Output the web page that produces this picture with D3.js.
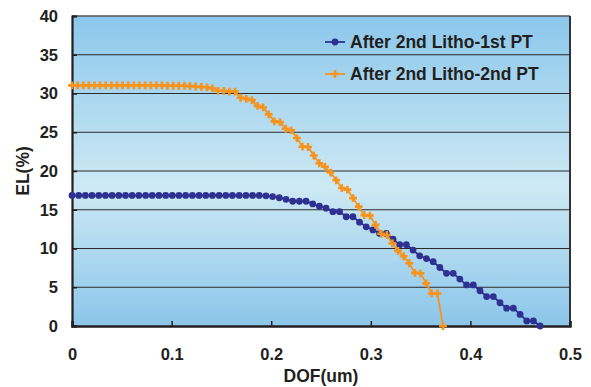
<!DOCTYPE html>
<html>
<head>
<meta charset="utf-8">
<script src="https://cdn.jsdelivr.net/npm/d3@7/dist/d3.min.js"></script>
<style>
  html, body { margin: 0; padding: 0; background: #ffffff; }
  svg { display: block; }
  text { font-family: "Liberation Sans", Arial, Helvetica, sans-serif; font-weight: bold; fill: #231f20; }
</style>
</head>
<body>
<svg id="chart" width="591" height="387"></svg>
<script>
// ---------- data ----------
const seriesNames = ["After 2nd Litho-1st PT", "After 2nd Litho-2nd PT"];

const dof1 = [0, 0.0067, 0.0134, 0.0201, 0.0269, 0.0336, 0.0403, 0.047, 0.0537, 0.0604,
  0.0671, 0.0739, 0.0806, 0.0873, 0.094, 0.1007, 0.1074, 0.1141, 0.1209, 0.1276,
  0.1343, 0.141, 0.1477, 0.1544, 0.1611, 0.1679, 0.1746, 0.1813, 0.188, 0.1947,
  0.2014, 0.2081, 0.2149, 0.2216, 0.2283, 0.235, 0.2417, 0.2484, 0.2551, 0.2619,
  0.2686, 0.2753, 0.282, 0.2887, 0.2954, 0.3021, 0.3089, 0.3156, 0.3223, 0.329,
  0.3357, 0.3424, 0.3491, 0.3559, 0.3626, 0.3693, 0.376, 0.3827, 0.3894, 0.3961,
  0.4029, 0.4096, 0.4163, 0.423, 0.4297, 0.4364, 0.4431, 0.4499, 0.4566, 0.4633, 0.47];
const el1 = [16.85, 16.85, 16.85, 16.85, 16.85, 16.85, 16.85, 16.85, 16.85, 16.85,
  16.85, 16.85, 16.85, 16.85, 16.85, 16.85, 16.85, 16.85, 16.85, 16.85,
  16.85, 16.85, 16.85, 16.85, 16.85, 16.85, 16.85, 16.85, 16.85, 16.8,
  16.7, 16.55, 16.35, 16.1, 16.1, 16.1, 15.75, 15.45, 15.2, 14.75,
  14.75, 14.1, 14.1, 13.4, 12.8, 12.4, 11.95, 11.95, 11.2, 10.5,
  10.5, 9.8, 9.05, 8.7, 8.3, 7.55, 6.8, 6.8, 6.05, 5.3,
  5.3, 4.55, 3.8, 3.8, 3.0, 2.3, 2.3, 1.5, 0.65, 0.65, 0.0];

const dof2 = [0, 0.0056, 0.0113, 0.0169, 0.0226, 0.0282, 0.0339, 0.0395, 0.0452, 0.0508,
  0.0564, 0.0621, 0.0677, 0.0734, 0.079, 0.0847, 0.0903, 0.0959, 0.1016, 0.1072,
  0.1129, 0.1185, 0.1242, 0.1298, 0.1355, 0.1411, 0.1467, 0.1524, 0.158, 0.1637,
  0.1693, 0.175, 0.1806, 0.1862, 0.1919, 0.1975, 0.2032, 0.2088, 0.2145, 0.2201,
  0.2258, 0.2314, 0.237, 0.2427, 0.2483, 0.254, 0.2596, 0.2653, 0.2709, 0.2765,
  0.2822, 0.2878, 0.2935, 0.2991, 0.3048, 0.3104, 0.3161, 0.3217, 0.3273, 0.333,
  0.3386, 0.3443, 0.3499, 0.3556, 0.3612, 0.3669, 0.3725];
const el2 = [31.05, 31.05, 31.05, 31.05, 31.05, 31.05, 31.05, 31.05, 31.05, 31.05,
  31.05, 31.05, 31.05, 31.05, 31.05, 31.05, 31.05, 31.0, 31.0, 31.0,
  31.0, 30.95, 30.9, 30.85, 30.8, 30.65, 30.35, 30.35, 30.25, 30.25,
  29.45, 29.3, 29.15, 28.4, 28.2, 27.3, 26.4, 26.3, 25.45, 25.25,
  24.25, 23.15, 23.1, 22.0, 21.0, 20.55, 19.8, 18.8, 17.8, 17.6,
  16.5, 15.4, 14.3, 14.25, 13.05, 11.9, 11.75, 10.65, 9.7, 9.0,
  8.1, 6.85, 6.8, 5.5, 4.2, 4.2, 0.0];

const xTicks = [0, 0.1, 0.2, 0.3, 0.4, 0.5];
const yTicks = [0, 5, 10, 15, 20, 25, 30, 35, 40];
const xTitle = "DOF(um)";
const yTitle = "EL(%)";

// ---------- layout ----------
const svg = d3.select("#chart");
const L = 72, R = 570, T = 16, B = 326;
const x = d3.scaleLinear().domain([0, 0.5]).range([L, R]);
const y = d3.scaleLinear().domain([0, 40]).range([B, T]);

// background gradient
const defs = svg.append("defs");
const grad = defs.append("linearGradient").attr("id", "bg")
  .attr("x1", 0).attr("y1", 0).attr("x2", 0).attr("y2", 1);
grad.append("stop").attr("offset", "0%").attr("stop-color", "#8cc7eb");
grad.append("stop").attr("offset", "55%").attr("stop-color", "#cde9f4");
grad.append("stop").attr("offset", "100%").attr("stop-color", "#8cc6ea");

svg.append("rect").attr("x", L).attr("y", T).attr("width", R - L).attr("height", B - T)
  .attr("fill", "url(#bg)");

// gridlines
svg.append("g").selectAll("line").data(yTicks.filter(d => d > 0 && d < 40)).join("line")
  .attr("x1", L).attr("x2", R).attr("y1", d => y(d)).attr("y2", d => y(d))
  .attr("stroke", "#2b2b2b").attr("stroke-width", 1);

// frame top / right
svg.append("line").attr("x1", L).attr("x2", R).attr("y1", T).attr("y2", T)
  .attr("stroke", "#555").attr("stroke-width", 1.3);
svg.append("line").attr("x1", R).attr("x2", R).attr("y1", T).attr("y2", B)
  .attr("stroke", "#333").attr("stroke-width", 2);

// axes
const yAxis = d3.axisLeft(y).tickValues(yTicks).tickSize(-5).tickPadding(14).tickFormat(d3.format("d"));
const gy = svg.append("g").attr("transform", `translate(${L},0)`).call(yAxis);
gy.select(".domain").attr("stroke", "#231f20").attr("stroke-width", 2.2);
gy.selectAll(".tick line").attr("stroke", "#231f20").attr("stroke-width", 1.5);
gy.selectAll(".tick text").attr("font-size", 16.5).attr("fill", "#231f20")
  .style("font-family", "'Liberation Sans', Arial, sans-serif").style("font-weight", "bold");

const xAxis = d3.axisBottom(x).tickValues(xTicks).tickSize(-5).tickPadding(22)
  .tickFormat(d => d === 0 ? "0" : d3.format(".1f")(d));
const gx = svg.append("g").attr("transform", `translate(0,${B})`).call(xAxis);
gx.select(".domain").attr("stroke", "#231f20").attr("stroke-width", 2.5);
gx.selectAll(".tick line").attr("stroke", "#231f20").attr("stroke-width", 1.5);
gx.selectAll(".tick text").attr("font-size", 16.5).attr("fill", "#231f20")
  .style("font-family", "'Liberation Sans', Arial, sans-serif").style("font-weight", "bold");

// axis titles
svg.append("text").attr("x", (L + R) / 2).attr("y", 382).attr("text-anchor", "middle")
  .attr("font-size", 17.5).text(xTitle);
svg.append("text").attr("transform", "translate(29,171) rotate(-90)").attr("text-anchor", "middle")
  .attr("font-size", 17.5).text(yTitle);

// series
const blue = "#2e3192", orange = "#f7941d";
const d1 = dof1.map((d, i) => [d, el1[i]]);
const d2 = dof2.map((d, i) => [d, el2[i]]);
const line = d3.line().x(d => x(d[0])).y(d => y(d[1]));

svg.append("path").datum(d1).attr("d", line).attr("fill", "none")
  .attr("stroke", blue).attr("stroke-width", 1.8);
svg.append("g").selectAll("circle").data(d1).join("circle")
  .attr("cx", d => x(d[0])).attr("cy", d => y(d[1])).attr("r", 3.4).attr("fill", blue);

svg.append("path").datum(d2).attr("d", line).attr("fill", "none")
  .attr("stroke", orange).attr("stroke-width", 1.8);
const cross = d3.symbol().type(d3.symbolCross).size(34);
svg.append("g").selectAll("path").data(d2).join("path")
  .attr("transform", d => `translate(${x(d[0])},${y(d[1])})`).attr("d", cross).attr("fill", orange);

// legend
const legendY = [42, 74];
const lg = svg.append("g");
[blue, orange].forEach((c, i) => {
  const ly = legendY[i];
  lg.append("line").attr("x1", 325).attr("x2", 345).attr("y1", ly).attr("y2", ly)
    .attr("stroke", c).attr("stroke-width", 1.8);
  if (i === 0) {
    lg.append("circle").attr("cx", 335).attr("cy", ly).attr("r", 3.4).attr("fill", c);
  } else {
    lg.append("path").attr("transform", `translate(335,${ly})`).attr("d", cross).attr("fill", c);
  }
  lg.append("text").attr("x", 350).attr("y", ly + 6).attr("font-size", 17.5).text(seriesNames[i]);
});
</script>
</body>
</html>
